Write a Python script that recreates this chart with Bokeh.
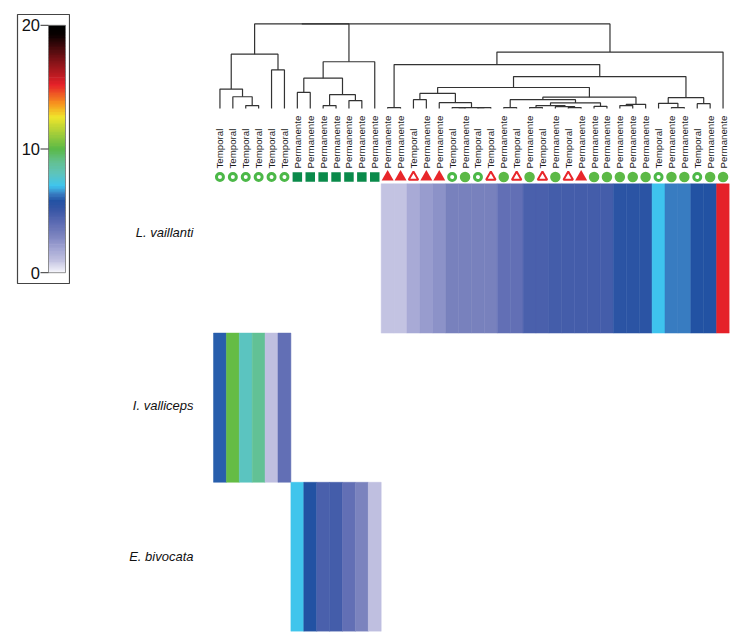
import numpy as np
from bokeh.plotting import figure
from bokeh.models import Range1d, LinearColorMapper, ColumnDataSource
from bokeh.layouts import row
from bokeh.embed import file_html
from bokeh.resources import INLINE
from bokeh.core.properties import value
from bokeh.transform import transform

# ---------------- data ----------------
habitat = (["Temporal"] * 6 + ["Permanente"] * 7 +
           ["Permanente", "Permanente", "Temporal", "Permanente", "Permanente",
            "Temporal", "Permanente", "Temporal", "Temporal", "Permanente",
            "Temporal", "Permanente", "Temporal", "Permanente", "Temporal",
            "Permanente", "Permanente", "Permanente", "Permanente", "Permanente",
            "Permanente", "Temporal", "Permanente", "Permanente", "Temporal",
            "Permanente", "Permanente"])
site_shape = (["circle"] * 6 + ["square"] * 7 +
              ["triangle"] * 5 + ["circle"] * 3 +
              ["triangle", "circle", "triangle", "circle", "triangle", "circle",
               "triangle", "triangle"] + ["circle"] * 11)

species = ["L. vaillanti", "I. valliceps", "E. bivocata"]
species_cols = [list(range(13, 40)), list(range(0, 6)), list(range(6, 13))]
vaillanti_vals = [1.0, 1.0, 1.75, 2.2, 2.55, 3.1, 3.1, 3.1, 3.1, 3.85, 3.85,
                  4.6, 4.6, 4.7, 4.7, 4.75, 4.75, 4.75, 5.5, 5.5, 5.5, 7.0,
                  6.4, 6.4, 5.85, 5.85, 15.2]
valliceps_vals = [5.95, 10.2, 7.95, 8.9, 1.05, 3.85]
bivocata_vals = [7.1, 5.85, 4.6, 4.7, 3.85, 3.0, 1.05]
species_vals = [vaillanti_vals, valliceps_vals, bivocata_vals]

# dendrogram linkage: (left id, right id, height); ids < 40 are leaves
merges = [
    (2, 3, 0.035), (1, 40, 0.140), (0, 41, 0.230), (4, 5, 0.456), (42, 43, 0.643),
    (6, 7, 0.191), (8, 9, 0.035), (10, 11, 0.094), (46, 47, 0.164), (45, 48, 0.359),
    (49, 12, 0.553),
    (13, 14, 0.012), (15, 16, 0.105), (18, 19, 0.012), (20, 21, 0.012), (53, 54, 0.012),
    (17, 55, 0.070), (52, 56, 0.179), (22, 23, 0.012), (24, 25, 0.012), (27, 28, 0.012),
    (26, 60, 0.023), (59, 61, 0.035), (29, 30, 0.027), (62, 63, 0.067), (58, 64, 0.105),
    (31, 32, 0.035), (66, 33, 0.050), (65, 67, 0.135), (57, 68, 0.249), (35, 36, 0.012),
    (34, 70, 0.062), (37, 38, 0.058), (71, 72, 0.129), (69, 73, 0.378), (51, 74, 0.520),
    (75, 39, 0.667),
    (44, 50, 1.0), (77, 76, 1.0),
]

cbar_ticks = [0, 10, 20]

# colour scale stops (value, colour)
stops = [(0, "#f5f5fb"), (1, "#c0c0e0"), (2, "#9fa2d2"), (3, "#7a82be"),
         (4, "#5d6cb3"), (5, "#3a57a6"), (5.8, "#2252a3"), (6.4, "#3a80c4"),
         (7.0, "#3ec5ef"), (8.0, "#5ec4bc"), (9.0, "#63c08f"), (10.0, "#5ab947"),
         (11.3, "#a6ce39"), (12.6, "#f0e52b"), (13.7, "#f7931e"), (15.2, "#e62129"),
         (17.5, "#6e1014"), (19.3, "#080000"), (20, "#000000")]


def build_palette(stops, n=256):
    vs = np.array([s[0] for s in stops], dtype=float)
    rgb = np.array([[int(c[i:i + 2], 16) for i in (1, 3, 5)] for _, c in stops], dtype=float)
    grid = np.linspace(vs[0], vs[-1], n)
    out = []
    for g in grid:
        r = [np.interp(g, vs, rgb[:, k]) for k in range(3)]
        out.append("#%02x%02x%02x" % tuple(int(round(x)) for x in r))
    return out


palette = build_palette(stops)
mapper = LinearColorMapper(palette=palette, low=0, high=20)
FONT = value("Liberation Sans")

# ---------------- colour bar figure ----------------
cb = figure(width=70, height=288, x_range=Range1d(0, 53), y_range=Range1d(-0.873, 20.873),
            x_axis_type=None, y_axis_type=None, toolbar_location=None,
            output_backend="svg", min_border_left=17, min_border_right=0,
            min_border_top=14, min_border_bottom=0)
cb.grid.visible = False
cb.outline_line_color = "#444444"
cb.outline_line_width = 1.2
edges = np.linspace(0, 20, 161)
cb_src = ColumnDataSource(dict(b=edges[:-1], t=np.minimum(edges[1:] + 0.06, 20),
                               m=(edges[:-1] + edges[1:]) / 2))
cb.quad(left=31, right=48, bottom="b", top="t", source=cb_src,
        fill_color=transform("m", mapper), line_color=None)
cb.quad(left=[31], right=[48], bottom=[0], top=[20], fill_color=None,
        line_color="#777777", line_width=0.8)
cb.segment(x0=[23] * 3, x1=[31] * 3, y0=cbar_ticks, y1=cbar_ticks,
           line_color="#333333", line_width=1)
cb.text(x=[22.5] * 3, y=cbar_ticks, text=[str(t) for t in cbar_ticks],
        text_align="right", text_baseline="middle", text_font=FONT,
        text_font_size="16.5px", text_color="#111111")

# ---------------- main figure ----------------
p = figure(width=667, height=636, x_range=Range1d(-11.085, 40), y_range=Range1d(0, 4.135),
           x_axis_type=None, y_axis_type=None, toolbar_location=None,
           output_backend="svg", min_border_left=0, min_border_right=8,
           min_border_top=8, min_border_bottom=5)
p.grid.visible = False
p.outline_line_color = None
p.extra_y_ranges = {"dend": Range1d(-6.175, 1.111)}

# heatmap
row_center = {"L. vaillanti": 2.5, "I. valliceps": 1.5, "E. bivocata": 0.5}
hx, hy, hv = [], [], []
for sp, cols, vals in zip(species, species_cols, species_vals):
    for c, v in zip(cols, vals):
        hx.append(c + 0.5)
        hy.append(row_center[sp])
        hv.append(v)
hsrc = ColumnDataSource(dict(x=hx, y=hy, v=hv))
p.rect(x="x", y="y", width=1, height=1, source=hsrc,
       fill_color=transform("v", mapper), line_color=transform("v", mapper), line_width=0.5)

# species labels
label_nudge = [-26, -2, 0]
p.text(x=[-1.55] * 3, y=[row_center[s] for s in species], text=species,
       y_offset=label_nudge, text_align="right", text_baseline="middle",
       text_font=FONT, text_font_style="italic", text_font_size="13px",
       text_color="#111111")

# dendrogram
n = len(habitat)
xpos = {i: i + 0.5 for i in range(n)}
hpos = {i: 0.0 for i in range(n)}
dxs, dys = [], []
for k, (a, b, h) in enumerate(merges):
    nid = n + k
    xa, xb = xpos[a], xpos[b]
    dxs.append([xa, xa, xb, xb])
    dys.append([hpos[a], h, h, hpos[b]])
    xpos[nid] = (xa + xb) / 2
    hpos[nid] = h
p.multi_line(xs=dxs, ys=dys, y_range_name="dend", line_color="#333333", line_width=1.2)

# habitat labels
cx = [i + 0.5 for i in range(n)]
p.text(x=cx, y=[3.103] * n, text=habitat, angle=np.pi / 2, text_align="left",
       text_baseline="middle", text_font=FONT, text_font_size="9.7px",
       text_color="#1a1a1a")

# markers
my = 3.046
def pick(shape, temporal):
    return [cx[i] for i in range(n)
            if site_shape[i] == shape and (habitat[i] == "Temporal") == temporal]

p.scatter(x=pick("circle", True), y=my, marker="circle", size=7, fill_color="white",
          line_color="#4cb848", line_width=3)
p.scatter(x=pick("circle", False), y=my, marker="circle", size=10.5, fill_color="#5cb946",
          line_color=None)
p.scatter(x=pick("square", False), y=my, marker="square", size=9.5, fill_color="#0a8a4a",
          line_color=None)
p.scatter(x=pick("triangle", False), y=my, marker="triangle", size=12, fill_color="#e8262a",
          line_color=None)
p.scatter(x=pick("triangle", True), y=my, marker="triangle", size=9.5, fill_color="white",
          line_color="#e8262a", line_width=2)

layout = row(cb, p)
open("out.html", "w").write(file_html(layout, INLINE))
